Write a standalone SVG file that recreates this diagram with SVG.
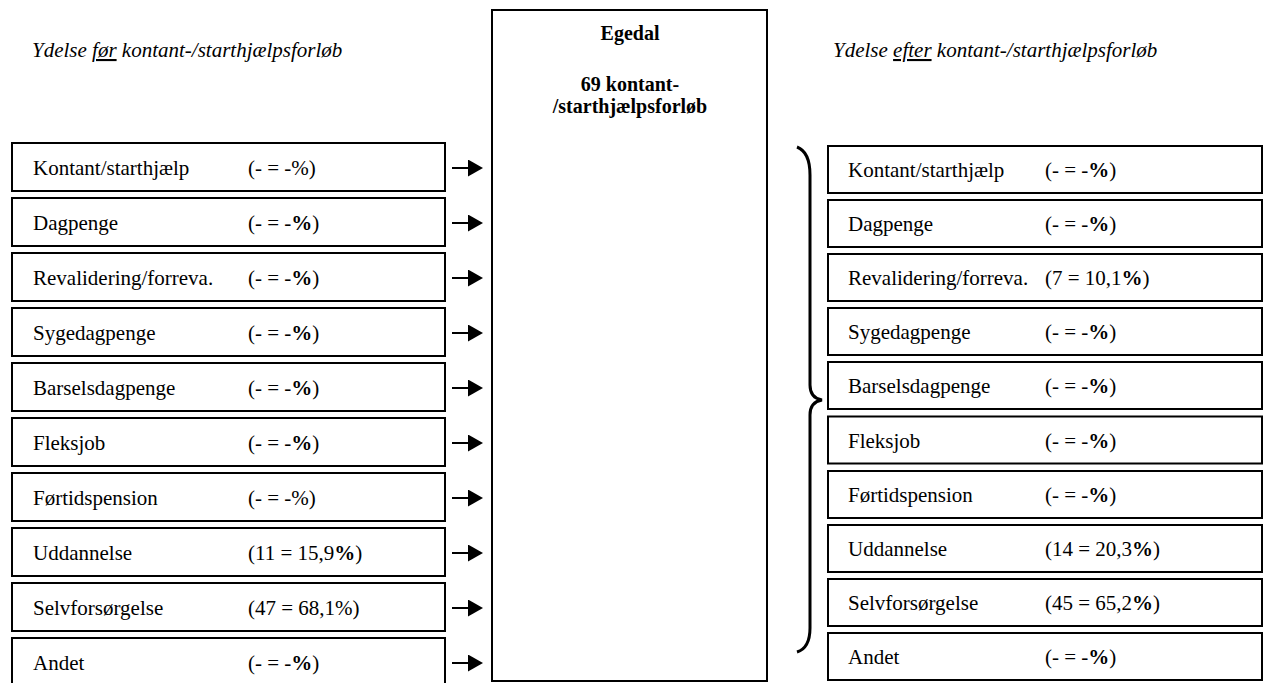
<svg xmlns="http://www.w3.org/2000/svg" width="1263" height="683" viewBox="0 0 1263 683">
<defs>
<style>
.box{fill:#fff;stroke:#000;stroke-width:2}
.t{font-family:"Liberation Serif","Times New Roman",serif;font-size:21px;fill:#000}
.h{font-family:"Liberation Serif","Times New Roman",serif;font-size:21px;font-style:italic;fill:#000}
.c{font-family:"Liberation Serif","Times New Roman",serif;font-size:20px;font-weight:bold;fill:#000;text-anchor:middle}
.b{font-weight:bold}
.conn{stroke:#000;stroke-width:2;fill:none}
</style>
<marker id="ah" markerUnits="userSpaceOnUse" markerWidth="16" markerHeight="18" refX="1" refY="8.5" orient="auto">
<path d="M0,0 L15,8.5 L0,17 z" fill="#000"/>
</marker>
</defs>
<rect width="1263" height="683" fill="#fff"/>
<text class="h" x="32" y="57">Ydelse <tspan text-decoration="underline">før</tspan> kontant-/starthjælpsforløb</text>
<text class="h" x="833" y="57">Ydelse <tspan text-decoration="underline">efter</tspan> kontant-/starthjælpsforløb</text>
<g id="center">
<rect class="box" x="492" y="10" width="275" height="671"/>
<text class="c" x="630" y="40">Egedal</text>
<text class="c" x="630" y="91">69 kontant-</text>
<text class="c" x="630" y="113">/starthjælpsforløb</text>
</g>
<g id="left-1"><rect class="box" x="12" y="143" width="433" height="48"/><text class="t" x="33" y="175">Kontant/starthjælp</text><text class="t" x="248" y="175">(- = -%)</text></g>
<g id="left-2"><rect class="box" x="12" y="198" width="433" height="48"/><text class="t" x="33" y="230">Dagpenge</text><text class="t" x="248" y="230">(- = -<tspan class="b">%</tspan>)</text></g>
<g id="left-3"><rect class="box" x="12" y="253" width="433" height="48"/><text class="t" x="33" y="285">Revalidering/forreva.</text><text class="t" x="248" y="285">(- = -<tspan class="b">%</tspan>)</text></g>
<g id="left-4"><rect class="box" x="12" y="308" width="433" height="48"/><text class="t" x="33" y="340">Sygedagpenge</text><text class="t" x="248" y="340">(- = -<tspan class="b">%</tspan>)</text></g>
<g id="left-5"><rect class="box" x="12" y="363" width="433" height="48"/><text class="t" x="33" y="395">Barselsdagpenge</text><text class="t" x="248" y="395">(- = -<tspan class="b">%</tspan>)</text></g>
<g id="left-6"><rect class="box" x="12" y="418" width="433" height="48"/><text class="t" x="33" y="450">Fleksjob</text><text class="t" x="248" y="450">(- = -<tspan class="b">%</tspan>)</text></g>
<g id="left-7"><rect class="box" x="12" y="473" width="433" height="48"/><text class="t" x="33" y="505">Førtidspension</text><text class="t" x="248" y="505">(- = -%)</text></g>
<g id="left-8"><rect class="box" x="12" y="528" width="433" height="48"/><text class="t" x="33" y="560">Uddannelse</text><text class="t" x="248" y="560">(11 = 15,9<tspan class="b">%</tspan>)</text></g>
<g id="left-9"><rect class="box" x="12" y="583" width="433" height="48"/><text class="t" x="33" y="615">Selvforsørgelse</text><text class="t" x="248" y="615">(47 = 68,1%)</text></g>
<g id="left-10"><rect class="box" x="12" y="638" width="433" height="48"/><text class="t" x="33" y="670">Andet</text><text class="t" x="248" y="670">(- = -<tspan class="b">%</tspan>)</text></g>
<g id="right-1"><rect class="box" x="828" y="146" width="434" height="47"/><text class="t" x="848" y="177">Kontant/starthjælp</text><text class="t" x="1045" y="177">(- = -<tspan class="b">%</tspan>)</text></g>
<g id="right-2"><rect class="box" x="828" y="200" width="434" height="47"/><text class="t" x="848" y="231">Dagpenge</text><text class="t" x="1045" y="231">(- = -<tspan class="b">%</tspan>)</text></g>
<g id="right-3"><rect class="box" x="828" y="254" width="434" height="47"/><text class="t" x="848" y="285">Revalidering/forreva.</text><text class="t" x="1045" y="285">(7 = 10,1<tspan class="b">%</tspan>)</text></g>
<g id="right-4"><rect class="box" x="828" y="308" width="434" height="47"/><text class="t" x="848" y="339">Sygedagpenge</text><text class="t" x="1045" y="339">(- = -<tspan class="b">%</tspan>)</text></g>
<g id="right-5"><rect class="box" x="828" y="362" width="434" height="47"/><text class="t" x="848" y="393">Barselsdagpenge</text><text class="t" x="1045" y="393">(- = -<tspan class="b">%</tspan>)</text></g>
<g id="right-6"><rect class="box" x="828" y="416.5" width="434" height="47"/><text class="t" x="848" y="447.5">Fleksjob</text><text class="t" x="1045" y="447.5">(- = -<tspan class="b">%</tspan>)</text></g>
<g id="right-7"><rect class="box" x="828" y="471" width="434" height="47"/><text class="t" x="848" y="502">Førtidspension</text><text class="t" x="1045" y="502">(- = -<tspan class="b">%</tspan>)</text></g>
<g id="right-8"><rect class="box" x="828" y="525" width="434" height="47"/><text class="t" x="848" y="556">Uddannelse</text><text class="t" x="1045" y="556">(14 = 20,3<tspan class="b">%</tspan>)</text></g>
<g id="right-9"><rect class="box" x="828" y="579" width="434" height="47"/><text class="t" x="848" y="610">Selvforsørgelse</text><text class="t" x="1045" y="610">(45 = 65,2<tspan class="b">%</tspan>)</text></g>
<g id="right-10"><rect class="box" x="828" y="633" width="434" height="47"/><text class="t" x="848" y="664">Andet</text><text class="t" x="1045" y="664">(- = -<tspan class="b">%</tspan>)</text></g>
<g id="connectors">
<line class="conn" x1="452" y1="168" x2="469" y2="168" marker-end="url(#ah)"/>
<line class="conn" x1="452" y1="223" x2="469" y2="223" marker-end="url(#ah)"/>
<line class="conn" x1="452" y1="278" x2="469" y2="278" marker-end="url(#ah)"/>
<line class="conn" x1="452" y1="333" x2="469" y2="333" marker-end="url(#ah)"/>
<line class="conn" x1="452" y1="388" x2="469" y2="388" marker-end="url(#ah)"/>
<line class="conn" x1="452" y1="443" x2="469" y2="443" marker-end="url(#ah)"/>
<line class="conn" x1="452" y1="498" x2="469" y2="498" marker-end="url(#ah)"/>
<line class="conn" x1="452" y1="553" x2="469" y2="553" marker-end="url(#ah)"/>
<line class="conn" x1="452" y1="608" x2="469" y2="608" marker-end="url(#ah)"/>
<line class="conn" x1="452" y1="663" x2="469" y2="663" marker-end="url(#ah)"/>
<path d="M797,147 Q810,152 810,175 L810,385 Q810,398 822,400 Q810,402 810,415 L810,628 Q810,648 797,652" fill="none" stroke="#000" stroke-width="3"/>
</g>
</svg>
